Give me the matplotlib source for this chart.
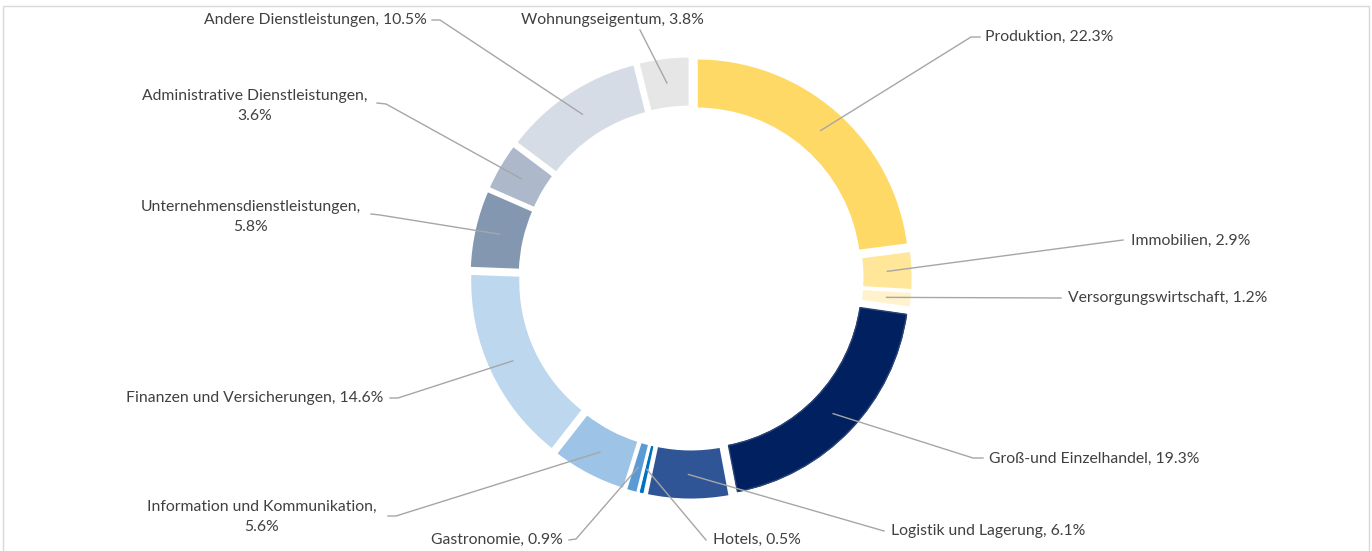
import numpy as np
import matplotlib
matplotlib.use('Agg')
import matplotlib.pyplot as plt
from matplotlib.patches import Rectangle, Wedge

# Sector shares (%) as labelled in the source chart, clockwise from 12 o'clock
sectors = ['Produktion', 'Immobilien', 'Versorgungswirtschaft', 'Groß-und Einzelhandel',
           'Logistik und Lagerung', 'Hotels', 'Gastronomie', 'Information und Kommunikation',
           'Finanzen und Versicherungen', 'Unternehmensdienstleistungen',
           'Administrative Dienstleistungen', 'Andere Dienstleistungen', 'Wohnungseigentum']
shares = [22.3, 2.9, 1.2, 19.3, 6.1, 0.5, 0.9, 5.6, 14.6, 5.8, 3.6, 10.5, 3.8]
colors = ['#FFD966', '#FFE699', '#FFF2CC', '#002060', '#2F5597', '#0070C0', '#5B9BD5',
          '#9DC3E6', '#BDD7EE', '#8497B0', '#ADB9CA', '#D6DCE5', '#E7E6E6']
# where the label text breaks onto a second line
wrap = [False, False, False, False, False, False, False, True, False, True, True, False, False]

# label layout in pixel coords (y from top): text anchor, alignment, leader line points
W, H = 1372, 551
label_pos = [(985, 37, 'left'), (1131, 241, 'left'), (1068, 298, 'left'), (989, 459, 'left'),
             (891, 531, 'left'), (713, 540, 'left'), (563, 540, 'right'), (262, 517, 'center'),
             (383, 398, 'right'), (251, 217, 'center'), (255, 106, 'center'), (427, 20, 'right'),
             (612, 20, 'center')]
leader_pts = [[(980, 37), (971, 37)], [(1123, 240)], [(1061, 298)], [(983, 458), (973, 458)],
              [(884, 531)], [(706, 540)], [(569, 540), (576, 539)], [(388, 516), (396, 516)],
              [(390, 398), (398, 398)], [(371, 214), (380, 215)], [(377, 103), (386, 104)],
              [(432, 20), (440, 20)], [(640, 30)]]

cx, cy = 691, H - 278
R, ring, gap, expl = 214, 51, 2.1, 8

plt.rcParams['font.family'] = ['Lato', 'DejaVu Sans']
fig = plt.figure(figsize=(W / 100, H / 100), dpi=100)
ax = fig.add_axes([0, 0, 1, 1])

wedges, _ = ax.pie(shares, colors=colors, startangle=90, counterclock=False, radius=R,
                   center=(cx, cy), explode=[expl] * len(shares),
                   wedgeprops=dict(width=ring, edgecolor='white', linewidth=gap))
ax.set_xlim(0, W); ax.set_ylim(0, H); ax.set_aspect('equal'); ax.axis('off')

# thin lighter outline on the dark navy segment
w = wedges[3]
ax.add_patch(Wedge(w.center, w.r - 2, w.theta1 + 0.5, w.theta2 - 0.5, width=w.width - 4,
                   facecolor='none', edgecolor='#2B4478', linewidth=1.0))

for i, w in enumerate(wedges):
    ang = np.deg2rad((w.theta1 + w.theta2) / 2)
    rmid = w.r - w.width / 2
    end = (w.center[0] + rmid * np.cos(ang), w.center[1] + rmid * np.sin(ang))
    xs = [p[0] for p in leader_pts[i]] + [end[0]]
    ys = [H - p[1] for p in leader_pts[i]] + [end[1]]
    ax.plot(xs, ys, color='#A6A6A6', lw=1.0)
    name = sectors[i] + (',\n' if wrap[i] else ', ') + f'{shares[i]:.1f}%'
    tx, ty, ha = label_pos[i]
    ax.text(tx, H - ty, name, ha=ha, va='center', fontsize=11.3, color='#404040',
            linespacing=1.55, multialignment='center')

ax.add_patch(Rectangle((3, -5), W - 6, H - 1, fill=False, edgecolor='#D9D9D9', lw=1))
fig.savefig('out.png', dpi=100)
